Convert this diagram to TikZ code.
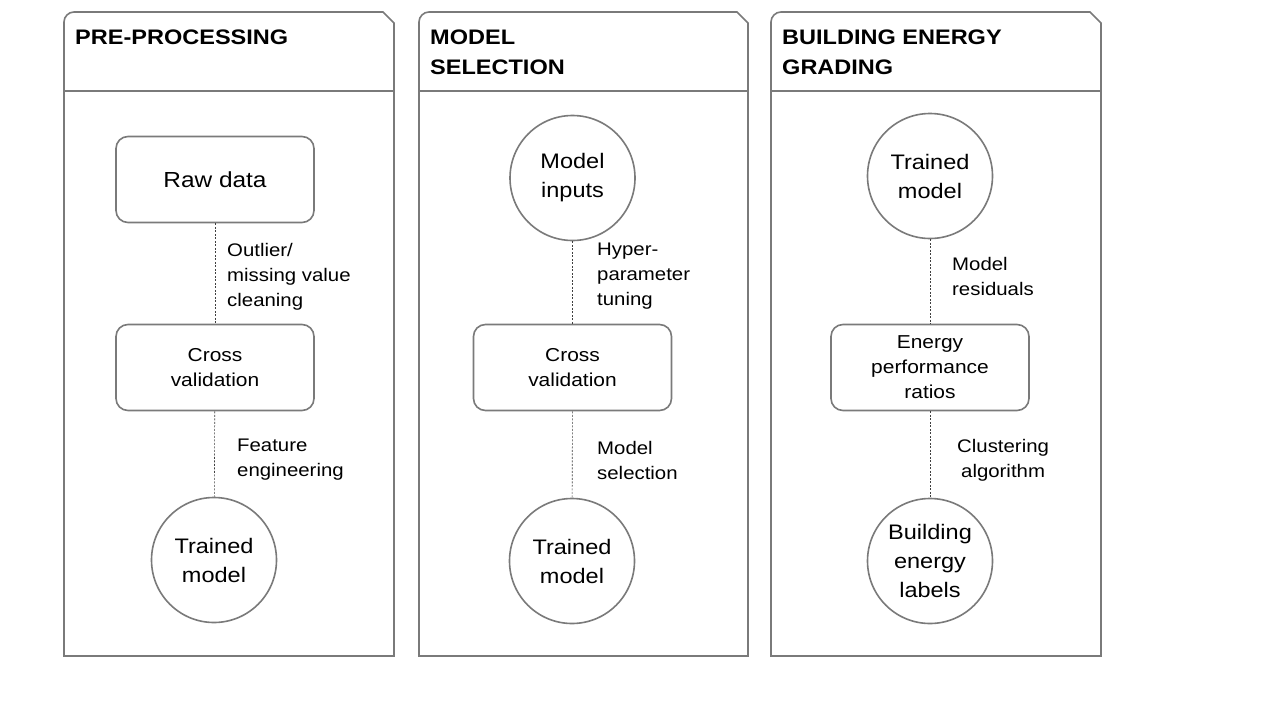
\documentclass[tikz,border=0pt]{standalone}
\usepackage{fontspec}
\setmainfont{Liberation Sans}[FakeStretch=1.12]
\definecolor{linegrey}{HTML}{7A7A7A}
\begin{document}
\begin{tikzpicture}[x=1pt, y=-1pt,
    stage/.style = {draw=linegrey, line width=1.6pt},
    title/.style = {anchor=north west, inner sep=0, align=left,
      font=\bfseries\fontsize{21}{29.5}\selectfont},
    proc/.style = {shape=rectangle, rounded corners=12pt, draw=linegrey,
      line width=1.6pt, minimum width=198pt, minimum height=86pt,
      align=center, font=\fontsize{18.7}{25}\selectfont},
    term/.style = {shape=circle, draw=linegrey, line width=1.6pt,
      minimum size=125pt, inner sep=0, align=center,
      font=\fontsize{21}{29}\selectfont},
    note/.style = {anchor=west, inner sep=0, align=left,
      font=\fontsize{18.2}{25}\selectfont},
    link/.style = {draw=black!75, dash pattern=on 2pt off 1.5pt, line width=0.6pt}]
  \useasboundingbox[fill=white] (0,0) rectangle (1280,720);

  % the three stage panels
  \foreach \xa/\xb in {64/394, 419/748, 771/1101} {
    \draw[stage] (\xa,656) -- (\xa,22) .. controls (\xa,16.5) and (\xa+4.5,12) .. (\xa+10,12)
      -- (\xb-11,12) -- (\xb,23) -- (\xb,656) -- cycle;
    \draw[stage] (\xa,91) -- (\xb,91);
  }
  \node[title] (t1) at (75,30) {PRE-PROCESSING};
  \node[title] (t2) at (430,30) {MODEL\\SELECTION};
  \node[title] (t3) at (782,30) {BUILDING ENERGY\\GRADING};

  % pre-processing
  \node[proc, font=\fontsize{21.8}{29}\selectfont] (raw) at (215,179.5) {Raw data};
  \node[proc] (cv1) at (215,367.5) {Cross\\validation};
  \node[term] (tm1) at (214,560) {Trained\\model};
  \draw[link] (raw) -- (cv1);
  \draw[link] (cv1) -- (tm1);
  \node[note] (n1) at (227,277) {Outlier/\\missing value\\cleaning};
  \node[note] (n2) at (237,460) {Feature\\engineering};

  % model selection
  \node[term] (in2) at (572.5,178) {Model\\inputs};
  \node[proc] (cv2) at (572.5,367.5) {Cross\\validation};
  \node[term] (tm2) at (572,561) {Trained\\model};
  \draw[link] (in2) -- (cv2);
  \draw[link] (cv2) -- (tm2);
  \node[note] (n3) at (597,276) {Hyper-\\parameter\\tuning};
  \node[note] (n4) at (597,460) {Model\\selection};

  % building energy grading
  \node[term] (tm3) at (930,176) {Trained\\model};
  \node[proc] (epr) at (930,367.5) {Energy\\performance\\ratios};
  \node[term] (lab) at (930,561) {Building\\energy\\labels};
  \draw[link] (tm3) -- (epr);
  \draw[link] (epr) -- (lab);
  \node[note] (n5) at (952,276.5) {Model\\residuals};
  \node[note, align=center] (n6) at (957,460) {Clustering\\algorithm};
\end{tikzpicture}
\end{document}
